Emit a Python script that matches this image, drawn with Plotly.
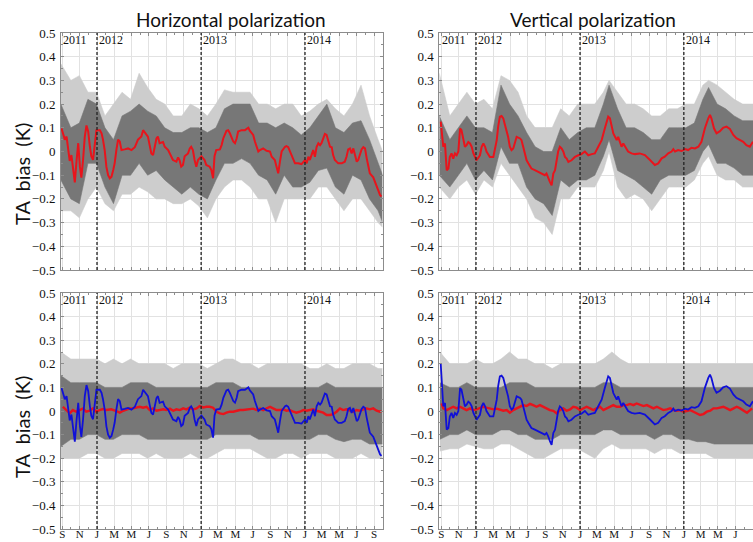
import pandas as pd
import plotly.graph_objects as go

START = pd.Timestamp("2011-09-01")   # day 0 of the record

# ---------------- data: (days since 2011-09-01, TA bias in K) ----------------
# Original bias, horizontal polarization (red, top-left; blue, bottom-left)
H_ORIG = [(-3, 0.098), (3, 0.07), (9, 0.05), (15, 0.063), (21, -0.01), (26, -0.04), (32, -0.015),
          (38, -0.07), (44, -0.13), (50, -0.04), (56, 0.035), (62, -0.065), (67, -0.11), (73, -0.035),
          (79, 0.063), (85, 0.11), (91, 0.085), (97, 0.02), (102, -0.02), (108, -0.035), (114, 0.035),
          (120, 0.09), (132, 0.09), (138, 0.077), (143, 0.05), (149, 0.006), (155, -0.065), (161, -0.1),
          (167, -0.113), (173, -0.106), (179, -0.078), (184, -0.05), (190, 0.006), (196, 0.05), (202, 0.042),
          (208, 0.006), (219, 0.009), (231, 0.013), (243, 0.006), (255, 0.018), (266, 0.05), (278, 0.063),
          (284, 0.09), (296, 0.07), (301, 0.063), (307, 0.027), (313, -0.008), (319, -0.015), (325, 0.02),
          (331, 0.055), (336, 0.063), (342, 0.035), (354, 0.04), (360, 0.02), (372, 0.006), (383, -0.02),
          (389, -0.036), (401, -0.043), (407, -0.025), (412, -0.036), (418, -0.064), (424, -0.057),
          (430, -0.02), (442, -0.008), (448, 0.013), (453, 0.02), (459, 0.006), (465, -0.036), (471, -0.064),
          (477, -0.036), (489, -0.02), (500, -0.036), (506, -0.057), (518, -0.064), (524, -0.078),
          (530, -0.113), (535, -0.02), (541, 0.006), (554, 0.009), (560, 0.027), (566, 0.056), (577, 0.087),
          (583, 0.09), (589, 0.077), (601, 0.042), (607, 0.035), (613, 0.056), (618, 0.084), (630, 0.09),
          (642, 0.09), (648, 0.094), (654, 0.1), (659, 0.088), (665, 0.077), (671, 0.07), (677, 0.042),
          (683, 0.02), (689, 0.0), (695, 0.006), (706, 0.013), (718, 0.003), (730, 0.0), (736, -0.022),
          (747, -0.036), (753, -0.064), (759, -0.092), (765, -0.043), (771, 0.0), (783, 0.02), (788, 0.023),
          (794, 0.018), (800, 0.0), (806, -0.022), (818, -0.05), (829, -0.05), (841, -0.053), (853, -0.036),
          (859, -0.05), (865, -0.022), (870, -0.036), (876, -0.015), (882, 0.006), (888, -0.022), (894, 0.02),
          (900, 0.035), (906, 0.027), (911, 0.035), (917, 0.056), (923, 0.074), (929, 0.07), (935, 0.049),
          (941, 0.02), (947, 0.018), (952, -0.015), (958, -0.036), (970, -0.05), (982, -0.05), (993, -0.043),
          (999, -0.022), (1005, 0.009), (1011, 0.013), (1017, -0.008), (1023, 0.013), (1029, -0.022),
          (1035, -0.043), (1040, -0.036), (1046, -0.015), (1052, 0.009), (1058, 0.018), (1064, 0.013),
          (1070, -0.029), (1076, -0.064), (1081, -0.092), (1093, -0.109), (1099, -0.127), (1105, -0.141),
          (1111, -0.162), (1117, -0.184), (1122, -0.19)]

# Original bias, vertical polarization (red, top-right; blue, bottom-right)
V_ORIG = [(-2, 0.126), (4, 0.048), (7, 0.02), (13, 0.034), (19, -0.079), (25, -0.072), (30, -0.023),
          (36, -0.008), (42, -0.03), (48, -0.008), (54, -0.016), (60, 0.0), (66, 0.097), (71, 0.09),
          (77, 0.048), (83, 0.02), (89, 0.027), (95, 0.04), (101, 0.034), (107, 0.02), (113, -0.008),
          (124, -0.037), (136, -0.016), (142, 0.02), (148, 0.034), (154, 0.02), (159, 0.0), (171, -0.023),
          (183, -0.023), (189, 0.02), (195, 0.048), (200, 0.105), (206, 0.147), (212, 0.15), (218, 0.14),
          (224, 0.112), (230, 0.09), (235, 0.062), (241, 0.02), (247, 0.006), (253, 0.013), (259, 0.04),
          (265, 0.062), (277, 0.055), (282, 0.048), (288, 0.02), (294, -0.016), (300, -0.037), (306, -0.05),
          (317, -0.072), (329, -0.079), (341, -0.086), (353, -0.093), (364, -0.1), (370, -0.093),
          (376, -0.107), (382, -0.128), (388, -0.143), (394, -0.093), (400, -0.079), (406, -0.037),
          (411, 0.0), (417, 0.02), (423, 0.013), (429, 0.0), (435, -0.023), (441, -0.03), (447, -0.044),
          (458, -0.037), (470, -0.023), (482, -0.016), (493, -0.011), (505, 0.0), (517, -0.016),
          (529, -0.011), (540, -0.008), (552, 0.02), (564, 0.048), (575, 0.097), (581, 0.119), (587, 0.147),
          (593, 0.14), (599, 0.112), (605, 0.076), (611, 0.062), (617, 0.048), (622, 0.062), (628, 0.04),
          (634, 0.02), (640, 0.034), (646, 0.02), (657, 0.0), (669, -0.008), (681, -0.011), (698, -0.008),
          (716, -0.015), (734, -0.036), (751, -0.057), (763, -0.05), (775, -0.029), (786, -0.022),
          (798, -0.008), (810, 0.0), (816, 0.01), (822, 0.0), (833, 0.006), (845, 0.002), (857, 0.01),
          (868, 0.006), (880, 0.016), (892, 0.013), (904, 0.02), (915, 0.041), (927, 0.098), (939, 0.14),
          (945, 0.154), (950, 0.14), (959, 0.098), (968, 0.077), (980, 0.086), (991, 0.1), (1003, 0.105),
          (1015, 0.095), (1027, 0.07), (1038, 0.056), (1050, 0.049), (1062, 0.041), (1073, 0.027),
          (1085, 0.02), (1096, 0.041)]
V_BLUE_FIRST = 0.20   # first value of the blue curve in the bottom-right panel

# Corrected bias (red, bottom panels)
H_CORR = [(2, 0.018), (14, 0.004), (26, -0.01), (37, 0.004), (49, -0.003), (61, 0.004), (73, 0.011),
          (84, -0.003), (96, 0.001), (108, 0.011), (120, -0.003), (131, 0.004), (143, 0.008), (155, 0.004),
          (172, 0.007), (190, 0.0), (202, -0.007), (214, 0.001), (226, 0.007), (237, 0.011), (249, 0.011),
          (261, 0.014), (272, 0.018), (284, 0.014), (296, 0.018), (307, 0.004), (319, 0.011), (331, 0.001),
          (343, 0.004), (355, 0.007), (366, 0.004), (378, 0.01), (390, 0.001), (401, 0.007), (413, 0.004),
          (425, 0.011), (436, 0.007), (448, 0.014), (460, 0.007), (472, 0.011), (483, 0.021), (495, 0.015),
          (507, 0.018), (518, 0.018), (530, 0.014), (542, -0.003), (554, -0.01), (566, -0.013), (577, -0.007),
          (589, -0.003), (601, -0.003), (612, 0.001), (624, 0.004), (636, 0.004), (648, 0.007), (659, 0.007),
          (671, 0.01), (683, 0.004), (695, 0.01), (706, 0.004), (718, 0.011), (730, 0.018), (741, 0.011),
          (753, 0.004), (765, 0.004), (777, 0.007), (788, 0.001), (800, 0.004), (812, -0.003), (823, -0.007),
          (835, -0.003), (847, 0.004), (858, 0.001), (870, 0.004), (882, 0.007), (894, 0.001), (905, -0.003),
          (917, -0.007), (929, -0.017), (941, -0.017), (952, -0.013), (964, -0.003), (976, 0.011),
          (987, 0.004), (999, 0.007), (1011, 0.001), (1023, -0.003), (1034, 0.004), (1046, 0.001),
          (1058, 0.007), (1070, 0.011), (1081, 0.007), (1093, 0.011), (1105, 0.001), (1116, -0.003),
          (1122, 0.0)]
V_CORR = [(1, 0.032), (7, 0.011), (19, 0.004), (31, 0.011), (42, 0.018), (54, 0.011), (66, 0.018),
          (77, 0.011), (89, 0.004), (101, 0.011), (113, 0.004), (124, 0.007), (136, 0.011), (148, 0.018),
          (159, 0.014), (171, 0.011), (183, 0.007), (195, 0.01), (206, 0.007), (218, 0.001), (230, 0.004),
          (241, -0.007), (253, 0.004), (265, 0.011), (277, 0.018), (288, 0.025), (300, 0.021), (312, 0.03),
          (323, 0.025), (335, 0.018), (347, 0.025), (359, 0.018), (370, 0.011), (382, 0.004), (394, 0.001),
          (406, -0.01), (417, 0.004), (429, 0.011), (441, 0.001), (453, 0.007), (464, 0.018), (476, 0.014),
          (488, 0.004), (500, 0.011), (511, 0.018), (523, 0.011), (535, 0.004), (546, 0.011), (558, 0.018),
          (570, 0.004), (582, 0.011), (593, 0.018), (605, 0.025), (617, 0.018), (629, 0.018), (640, 0.025),
          (652, 0.025), (664, 0.03), (676, 0.025), (687, 0.032), (699, 0.025), (711, 0.021), (723, 0.025),
          (734, 0.018), (746, 0.011), (758, 0.018), (770, 0.011), (781, 0.004), (793, 0.007), (805, 0.011),
          (817, 0.004), (828, 0.001), (840, 0.004), (852, -0.003), (863, 0.0), (875, 0.004), (887, -0.003),
          (899, -0.01), (910, -0.017), (922, -0.013), (934, -0.003), (946, 0.001), (957, 0.011), (969, 0.011),
          (981, 0.014), (992, 0.018), (1004, 0.011), (1016, 0.004), (1028, 0.011), (1039, 0.018),
          (1051, 0.011), (1063, 0.001), (1075, -0.007), (1086, 0.004), (1093, 0.011)]

# Envelopes of the individual (grey) data: dense core and sparse outer spikes
BAND_DAYS = [-5, 30, 60, 90, 120, 150, 180, 210, 240, 270, 300, 330, 360, 390, 420, 450, 480, 510, 540,
             570, 600, 630, 660, 690, 720, 750, 780, 810, 840, 870, 900, 930, 960, 990, 1020, 1050, 1080,
             1110, 1126]
H_TOP_CORE_HI = [0.2, 0.1, 0.12, 0.22, 0.2, 0.1, 0.05, 0.15, 0.17, 0.2, 0.17, 0.15, 0.1, 0.08, 0.08, 0.1,
                 0.1, 0.08, 0.1, 0.18, 0.2, 0.2, 0.2, 0.12, 0.12, 0.1, 0.12, 0.1, 0.07, 0.1, 0.15, 0.2, 0.1,
                 0.08, 0.12, 0.13, 0.05, -0.05, -0.1]
H_TOP_CORE_LO = [-0.12, -0.2, -0.22, -0.05, -0.05, -0.15, -0.22, -0.1, -0.1, -0.05, -0.1, -0.08, -0.12,
                 -0.15, -0.18, -0.15, -0.18, -0.2, -0.12, -0.05, -0.05, -0.03, -0.05, -0.1, -0.12, -0.18,
                 -0.1, -0.15, -0.15, -0.13, -0.08, -0.07, -0.15, -0.18, -0.1, -0.12, -0.2, -0.25, -0.3]
H_TOP_SPIKE_HI = [0.37, 0.3, 0.32, 0.25, 0.25, 0.15, 0.2, 0.25, 0.22, 0.33, 0.27, 0.22, 0.2, 0.15, 0.15,
                  0.2, 0.18, 0.15, 0.2, 0.26, 0.25, 0.25, 0.25, 0.2, 0.2, 0.18, 0.2, 0.2, 0.15, 0.17, 0.2,
                  0.22, 0.18, 0.15, 0.2, 0.28, 0.15, 0.05, 0.0]
H_TOP_SPIKE_LO = [-0.25, -0.25, -0.28, -0.2, -0.15, -0.22, -0.25, -0.18, -0.18, -0.15, -0.17, -0.2, -0.2,
                  -0.22, -0.22, -0.2, -0.23, -0.28, -0.2, -0.15, -0.12, -0.12, -0.15, -0.2, -0.2, -0.3,
                  -0.2, -0.2, -0.2, -0.2, -0.15, -0.15, -0.2, -0.25, -0.2, -0.2, -0.25, -0.3, -0.32]

V_BAND_DAYS = [-7, 30, 60, 90, 120, 150, 180, 210, 240, 270, 300, 330, 360, 390, 420, 450, 480, 510, 540,
               570, 590, 620, 650, 680, 710, 740, 770, 800, 830, 860, 890, 920, 940, 970, 1000, 1030,
               1060, 1097]
V_TOP_CORE_HI = [0.15, 0.05, 0.1, 0.15, 0.1, 0.1, 0.08, 0.28, 0.2, 0.15, 0.08, 0.02, 0.0, 0.0, 0.1, 0.05,
                 0.08, 0.1, 0.1, 0.2, 0.28, 0.18, 0.1, 0.1, 0.08, 0.05, 0.05, 0.1, 0.1, 0.1, 0.12, 0.22,
                 0.27, 0.2, 0.18, 0.15, 0.13, 0.13]
V_TOP_CORE_LO = [-0.1, -0.15, -0.1, -0.05, -0.12, -0.08, -0.12, 0.02, -0.05, -0.05, -0.15, -0.2, -0.22,
                 -0.27, -0.12, -0.15, -0.12, -0.12, -0.1, -0.02, 0.05, -0.08, -0.1, -0.12, -0.15, -0.18,
                 -0.12, -0.1, -0.1, -0.1, -0.08, 0.0, 0.03, -0.05, -0.05, -0.07, -0.1, -0.1]
V_TOP_SPIKE_HI = [0.33, 0.15, 0.2, 0.25, 0.2, 0.22, 0.18, 0.32, 0.3, 0.25, 0.15, 0.1, 0.1, 0.1, 0.18, 0.15,
                  0.2, 0.2, 0.2, 0.25, 0.3, 0.25, 0.2, 0.2, 0.18, 0.15, 0.15, 0.18, 0.18, 0.2, 0.2, 0.28,
                  0.3, 0.28, 0.25, 0.22, 0.2, 0.2]
V_TOP_SPIKE_LO = [-0.15, -0.2, -0.15, -0.12, -0.18, -0.12, -0.15, -0.05, -0.1, -0.15, -0.2, -0.28, -0.3,
                  -0.35, -0.2, -0.2, -0.15, -0.15, -0.15, -0.08, 0.0, -0.15, -0.2, -0.18, -0.2, -0.25, -0.2,
                  -0.15, -0.15, -0.15, -0.12, -0.05, -0.02, -0.1, -0.12, -0.12, -0.15, -0.15]

H_BOT_CORE_HI = [0.15, 0.12, 0.12, 0.12, 0.12, 0.1, 0.1, 0.1, 0.12, 0.12, 0.12, 0.1, 0.1, 0.1, 0.1, 0.1,
                 0.1, 0.1, 0.12, 0.12, 0.12, 0.1, 0.1, 0.1, 0.1, 0.1, 0.1, 0.1, 0.1, 0.1, 0.1, 0.12, 0.1,
                 0.1, 0.1, 0.1, 0.1, 0.1, 0.1]
H_BOT_CORE_LO = [-0.15, -0.12, -0.12, -0.1, -0.1, -0.12, -0.12, -0.1, -0.1, -0.1, -0.12, -0.12, -0.12,
                 -0.12, -0.12, -0.12, -0.12, -0.12, -0.1, -0.1, -0.1, -0.1, -0.1, -0.12, -0.12, -0.12,
                 -0.12, -0.12, -0.12, -0.12, -0.1, -0.1, -0.12, -0.13, -0.12, -0.12, -0.14, -0.14, -0.14]
H_BOT_SPIKE_HI = [0.25, 0.22, 0.22, 0.22, 0.22, 0.2, 0.22, 0.2, 0.22, 0.2, 0.2, 0.2, 0.2, 0.18, 0.2, 0.2,
                  0.2, 0.18, 0.2, 0.22, 0.22, 0.2, 0.2, 0.18, 0.2, 0.2, 0.2, 0.2, 0.2, 0.18, 0.18, 0.2,
                  0.18, 0.18, 0.2, 0.2, 0.2, 0.18, 0.18]
H_BOT_SPIKE_LO = [-0.2, -0.2, -0.2, -0.18, -0.18, -0.2, -0.2, -0.18, -0.18, -0.18, -0.2, -0.18, -0.2, -0.2,
                  -0.2, -0.18, -0.2, -0.2, -0.18, -0.16, -0.16, -0.16, -0.16, -0.18, -0.2, -0.2, -0.18,
                  -0.18, -0.2, -0.18, -0.18, -0.18, -0.2, -0.2, -0.2, -0.18, -0.2, -0.2, -0.2]

V_BOT_CORE_HI = [0.12, 0.1, 0.1, 0.12, 0.1, 0.1, 0.1, 0.1, 0.12, 0.12, 0.12, 0.1, 0.1, 0.1, 0.1, 0.1, 0.1,
                 0.1, 0.1, 0.12, 0.12, 0.1, 0.1, 0.1, 0.1, 0.1, 0.1, 0.1, 0.1, 0.1, 0.1, 0.1, 0.1, 0.1, 0.1,
                 0.1, 0.1, 0.1, 0.1]
V_BOT_CORE_LO = [-0.12, -0.1, -0.1, -0.08, -0.1, -0.1, -0.1, -0.08, -0.08, -0.1, -0.1, -0.12, -0.12,
                 -0.12, -0.1, -0.1, -0.1, -0.1, -0.1, -0.08, -0.08, -0.1, -0.1, -0.1, -0.1, -0.12, -0.1,
                 -0.1, -0.12, -0.12, -0.13, -0.13, -0.14, -0.14, -0.14, -0.14, -0.14, -0.14, -0.14]
V_BOT_SPIKE_HI = [0.25, 0.2, 0.2, 0.2, 0.22, 0.2, 0.2, 0.22, 0.25, 0.22, 0.22, 0.2, 0.2, 0.18, 0.2, 0.2,
                  0.2, 0.2, 0.2, 0.22, 0.25, 0.22, 0.2, 0.2, 0.2, 0.2, 0.2, 0.2, 0.2, 0.2, 0.2, 0.2, 0.2,
                  0.2, 0.2, 0.2, 0.2, 0.2, 0.2]
V_BOT_SPIKE_LO = [-0.17, -0.16, -0.16, -0.14, -0.15, -0.16, -0.16, -0.14, -0.14, -0.16, -0.18, -0.2, -0.2,
                  -0.18, -0.16, -0.16, -0.16, -0.18, -0.2, -0.16, -0.14, -0.16, -0.16, -0.16, -0.16, -0.18,
                  -0.16, -0.16, -0.18, -0.18, -0.18, -0.18, -0.2, -0.2, -0.2, -0.2, -0.2, -0.2, -0.2]

MONTH_TICKS = ["2011-09-01", "2011-11-01", "2012-01-01", "2012-03-01", "2012-05-01", "2012-07-01",
               "2012-09-01", "2012-11-01", "2013-01-01", "2013-03-01", "2013-05-01", "2013-07-01",
               "2013-09-01", "2013-11-01", "2014-01-01", "2014-03-01", "2014-05-01", "2014-07-01",
               "2014-09-01"]
MONTH_LABELS = ["S", "N", "J", "M", "M", "J", "S", "N", "J", "M", "M", "J", "S", "N", "J", "M", "M", "J", "S"]
YEAR_LINES = ["2012-01-01", "2013-01-01", "2014-01-01"]
YEAR_LABELS = [("2011-08-28", "2011"), ("2012-01-01", "2012"), ("2013-01-01", "2013"), ("2014-01-01", "2014")]
Y_TICKS = [-0.5, -0.4, -0.3, -0.2, -0.1, 0, 0.1, 0.2, 0.3, 0.4, 0.5]
Y_LABELS = ["\u22120.5", "\u22120.4", "\u22120.3", "\u22120.2", "\u22120.1", "0",
            "0.1", "0.2", "0.3", "0.4", "0.5"]
TITLES = ["Horizontal polarization", "Vertical polarization"]
Y_TITLE = "TA\u00a0 bias\u00a0 (K)"


def to_dates(days):
    return START + pd.to_timedelta(pd.Series(days, dtype=float), unit="D")


RED = "#e8141c"
BLUE = "#1010d8"
CORE = "#777777"
SPIKE = "#cdcdcd"

fig = go.Figure()


def add_band(days, hi, lo, color, xa, ya):
    d = to_dates(days)
    fig.add_trace(go.Scatter(x=d, y=hi, mode="lines", line=dict(width=0.6, color=color),
                             xaxis=xa, yaxis=ya, showlegend=False, hoverinfo="skip"))
    fig.add_trace(go.Scatter(x=d, y=lo, mode="lines", line=dict(width=0.6, color=color),
                             fill="tonexty", fillcolor=color, xaxis=xa, yaxis=ya,
                             showlegend=False, hoverinfo="skip"))


def add_line(pairs, color, width, xa, ya):
    days = [p[0] for p in pairs]
    vals = [p[1] for p in pairs]
    fig.add_trace(go.Scatter(x=to_dates(days), y=vals, mode="lines",
                             line=dict(color=color, width=width),
                             xaxis=xa, yaxis=ya, showlegend=False))


# top-left
add_band(BAND_DAYS, H_TOP_SPIKE_HI, H_TOP_SPIKE_LO, SPIKE, "x", "y")
add_band(BAND_DAYS, H_TOP_CORE_HI, H_TOP_CORE_LO, CORE, "x", "y")
add_line(H_ORIG, RED, 2, "x", "y")
# top-right
add_band(V_BAND_DAYS, V_TOP_SPIKE_HI, V_TOP_SPIKE_LO, SPIKE, "x2", "y2")
add_band(V_BAND_DAYS, V_TOP_CORE_HI, V_TOP_CORE_LO, CORE, "x2", "y2")
add_line(V_ORIG, RED, 2, "x2", "y2")
# bottom-left
add_band(BAND_DAYS, H_BOT_SPIKE_HI, H_BOT_SPIKE_LO, SPIKE, "x3", "y3")
add_band(BAND_DAYS, H_BOT_CORE_HI, H_BOT_CORE_LO, CORE, "x3", "y3")
add_line(H_CORR, RED, 2.4, "x3", "y3")
add_line(H_ORIG, BLUE, 1.8, "x3", "y3")
# bottom-right
add_band(BAND_DAYS, V_BOT_SPIKE_HI, V_BOT_SPIKE_LO, SPIKE, "x4", "y4")
add_band(BAND_DAYS, V_BOT_CORE_HI, V_BOT_CORE_LO, CORE, "x4", "y4")
add_line(V_CORR, RED, 2.4, "x4", "y4")
add_line([(V_ORIG[0][0], V_BLUE_FIRST)] + V_ORIG[1:], BLUE, 1.8, "x4", "y4")

W, H = 753, 542
LEFT_DOM = [61 / W, 382.5 / W]
RIGHT_DOM = [439.3 / W, 1.0]
TOP_DOM = [1 - 270 / H, 1 - 33 / H]
BOT_DOM = [1 - 529 / H, 1 - 293 / H]
LEFT_RANGE = ["2011-08-27 10:00", "2014-09-30 12:00"]
RIGHT_RANGE = ["2011-08-25", "2014-09-01 06:00"]

SERIF = "Liberation Serif, Times New Roman, DejaVu Serif, serif"
SANS = "Lato, Open Sans, sans-serif"
FRAME = "#8c8c8c"
GRID = "#e2e2e2"


def xaxis(dom, rng, anchor, labels):
    return dict(domain=dom, range=rng, anchor=anchor, type="date", automargin=False,
                tickmode="array", tickvals=MONTH_TICKS, ticktext=MONTH_LABELS,
                showticklabels=labels, ticks="inside", ticklen=3, tickcolor=FRAME,
                minor=dict(dtick="M1", ticks="inside", ticklen=2, tickcolor=FRAME, showgrid=False),
                showgrid=True, gridcolor=GRID, gridwidth=1,
                showline=True, linecolor=FRAME, linewidth=1, mirror="ticks",
                zeroline=False, tickfont=dict(family=SERIF, size=11, color="#111"),
                ticklabelstandoff=-5, fixedrange=True)


def yaxis(dom, anchor, mirror):
    return dict(domain=dom, range=[-0.5, 0.5], anchor=anchor, automargin=False,
                tickmode="array", tickvals=Y_TICKS, ticktext=Y_LABELS,
                ticks="inside", ticklen=3, tickcolor=FRAME,
                minor=dict(dtick=0.05, ticks="inside", ticklen=2, tickcolor=FRAME, showgrid=False),
                showgrid=True, gridcolor=GRID, gridwidth=1,
                showline=True, linecolor=FRAME, linewidth=1, mirror=mirror,
                zeroline=False, tickfont=dict(family=SERIF, size=13, color="#111"),
                ticklabelstandoff=2, fixedrange=True)


fig.update_layout(
    width=W, height=H, margin=dict(l=0, r=0, t=0, b=0, autoexpand=False),
    paper_bgcolor="white", plot_bgcolor="white", showlegend=False,
    xaxis=xaxis(LEFT_DOM, LEFT_RANGE, "y", False),
    xaxis2=xaxis(RIGHT_DOM, RIGHT_RANGE, "y2", False),
    xaxis3=xaxis(LEFT_DOM, LEFT_RANGE, "y3", True),
    xaxis4=xaxis(RIGHT_DOM, RIGHT_RANGE, "y4", True),
    yaxis=yaxis(TOP_DOM, "x", "ticks"),
    yaxis2=yaxis(TOP_DOM, "x2", False),
    yaxis3=yaxis(BOT_DOM, "x3", "ticks"),
    yaxis4=yaxis(BOT_DOM, "x4", False),
)

shapes = []
annotations = []
for xa, ya in [("x", "y"), ("x2", "y2"), ("x3", "y3"), ("x4", "y4")]:
    for d in YEAR_LINES:
        shapes.append(dict(type="line", xref=xa, yref=f"{ya} domain", x0=d, x1=d, y0=0, y1=1,
                           line=dict(color="#222", width=1.3, dash="3px,2px"), layer="above"))
    for d, txt in YEAR_LABELS:
        annotations.append(dict(text=txt, xref=xa, yref=f"{ya} domain", x=d, y=0.97,
                                xanchor="left", yanchor="middle", showarrow=False, xshift=0,
                                font=dict(family=SERIF, size=12, color="#111")))

annotations.append(dict(text=TITLES[0], xref="paper", yref="paper", x=231 / W, y=1 - 20 / H,
                        xanchor="center", yanchor="middle", showarrow=False,
                        font=dict(family=SANS, size=19, color="#111")))
annotations.append(dict(text=TITLES[1], xref="paper", yref="paper", x=593 / W, y=1 - 20 / H,
                        xanchor="center", yanchor="middle", showarrow=False,
                        font=dict(family=SANS, size=19, color="#111")))
for yc in [174, 427]:
    annotations.append(dict(text=Y_TITLE, xref="paper", yref="paper", x=22 / W, y=1 - yc / H,
                            xanchor="center", yanchor="middle", textangle=-90, showarrow=False,
                            font=dict(family=SANS, size=20, color="#111")))

fig.update_layout(shapes=shapes, annotations=annotations)
fig.write_html("out.html")
